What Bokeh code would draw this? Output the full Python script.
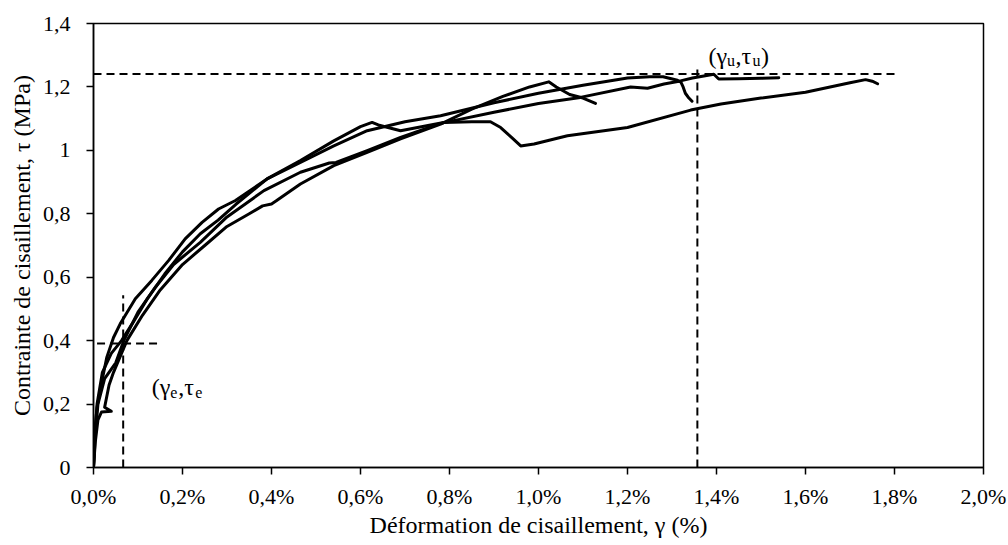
from bokeh.plotting import figure
from bokeh.models import Range1d, FixedTicker, ColumnDataSource
from bokeh.core.properties import value
from bokeh.embed import file_html
from bokeh.resources import INLINE

# ---- data (shear strain in %, shear stress in MPa) ----
curve_d_x = [0, 0.002, 0.008, 0.02, 0.03, 0.045, 0.06, 0.094, 0.131, 0.169, 0.206, 0.244, 0.281,
             0.319, 0.39, 0.465, 0.54, 0.60, 0.626, 0.64, 0.69, 0.74, 0.787, 0.85, 0.892, 0.915,
             0.94, 0.96, 0.99, 1.065, 1.2, 1.342, 1.41, 1.5, 1.6, 1.7, 1.735, 1.75, 1.762]
curve_d_y = [0, 0.10, 0.19, 0.28, 0.348, 0.41, 0.453, 0.532, 0.59, 0.653, 0.721, 0.773, 0.815,
             0.842, 0.91, 0.968, 1.03, 1.075, 1.088, 1.08, 1.062, 1.075, 1.088, 1.09, 1.09, 1.072,
             1.04, 1.014, 1.02, 1.046, 1.072, 1.127, 1.146, 1.165, 1.183, 1.213, 1.223, 1.218, 1.21]

curve_e_x = [0, 0.004, 0.01, 0.018, 0.04, 0.025, 0.035, 0.045, 0.075, 0.11, 0.15, 0.2, 0.25, 0.3,
             0.35, 0.38, 0.40, 0.41, 0.465, 0.54, 0.615, 0.69, 0.78, 0.85, 0.92, 0.98, 1.023,
             1.04, 1.07, 1.1, 1.128]
curve_e_y = [0, 0.08, 0.15, 0.175, 0.177, 0.19, 0.26, 0.30, 0.40, 0.48, 0.56, 0.64, 0.70, 0.76,
             0.80, 0.825, 0.831, 0.84, 0.894, 0.952, 0.994, 1.036, 1.083, 1.13, 1.17, 1.20, 1.216,
             1.20, 1.176, 1.165, 1.148]

curve_f_x = [0, 0.003, 0.008, 0.02, 0.04, 0.063, 0.09, 0.12, 0.16, 0.2, 0.24, 0.28, 0.32, 0.39,
             0.465, 0.54, 0.615, 0.7, 0.78, 0.9, 1.0, 1.1, 1.2, 1.25, 1.28, 1.31, 1.32, 1.325,
             1.33, 1.338, 1.345]
curve_f_y = [0, 0.10, 0.20, 0.30, 0.36, 0.40, 0.46, 0.53, 0.61, 0.68, 0.737, 0.78, 0.83, 0.91,
             0.962, 1.014, 1.062, 1.09, 1.109, 1.15, 1.18, 1.205, 1.228, 1.232, 1.232, 1.222, 1.215,
             1.20, 1.18, 1.165, 1.155]

curve_g_x = [0, 0.004, 0.01, 0.025, 0.05, 0.068, 0.10, 0.14, 0.18, 0.24, 0.3, 0.383, 0.465, 0.53,
             0.545, 0.615, 0.69, 0.78, 0.9, 1.0, 1.094, 1.207, 1.245, 1.282, 1.319, 1.346, 1.394,
             1.405, 1.45, 1.5, 1.54]
curve_g_y = [0, 0.10, 0.20, 0.28, 0.33, 0.40, 0.49, 0.57, 0.64, 0.71, 0.79, 0.873, 0.931, 0.96,
             0.962, 0.999, 1.041, 1.085, 1.12, 1.148, 1.167, 1.20, 1.196, 1.209, 1.219, 1.228, 1.24,
             1.225, 1.226, 1.227, 1.229]

# reference points (gamma_u, tau_u) and (gamma_e, tau_e)
gamma_u, tau_u = 1.357, 1.241
gamma_e, tau_e = 0.0667, 0.391

x_ticks = [0, 0.2, 0.4, 0.6, 0.8, 1.0, 1.2, 1.4, 1.6, 1.8, 2.0]
x_tick_labels = ["0,0%", "0,2%", "0,4%", "0,6%", "0,8%", "1,0%", "1,2%", "1,4%", "1,6%", "1,8%", "2,0%"]
y_ticks = [0, 0.2, 0.4, 0.6, 0.8, 1.0, 1.2, 1.4]
y_tick_labels = ["0", "0,2", "0,4", "0,6", "0,8", "1", "1,2", "1,4"]

FONT = "Liberation Serif"

p = figure(width=1008, height=545, output_backend="svg", toolbar_location=None,
           x_range=Range1d(0, 2.0), y_range=Range1d(0, 1.4),
           min_border_left=93, min_border_right=25, min_border_top=23, min_border_bottom=78)
p.xgrid.visible = False
p.ygrid.visible = False
p.outline_line_color = "black"
p.outline_line_width = 1.5
p.background_fill_color = "white"
p.border_fill_color = "white"

for ax in (p.xaxis[0], p.yaxis[0]):
    ax.axis_line_color = "black"
    ax.axis_line_width = 1.5
    ax.major_tick_line_color = "black"
    ax.major_tick_line_width = 1.5
    ax.major_tick_in = 0
    ax.major_tick_out = 7
    ax.minor_tick_line_color = None
    ax.major_label_text_font = FONT
    ax.major_label_text_font_size = "22px"
    ax.major_label_text_color = "black"
    ax.axis_label_text_font = FONT
    ax.axis_label_text_font_size = "24px"
    ax.axis_label_text_font_style = "normal"
    ax.axis_label_text_color = "black"

p.xaxis.ticker = FixedTicker(ticks=x_ticks)
p.xaxis.major_label_overrides = {t: l for t, l in zip(x_ticks, x_tick_labels)}
p.yaxis.ticker = FixedTicker(ticks=y_ticks)
p.yaxis.major_label_overrides = {t: l for t, l in zip(y_ticks, y_tick_labels)}
p.xaxis.axis_label = "Déformation de cisaillement, γ (%)"
p.yaxis.axis_label = "Contrainte de cisaillement, τ (MPa)"
p.xaxis.major_label_standoff = 9
p.yaxis.major_label_standoff = 16
p.xaxis.axis_label_standoff = 0
p.yaxis.axis_label_standoff = 5

# dashed reference lines
dash = "8 5"
p.line([0, 1.808], [tau_u, tau_u], line_color="black", line_width=2, line_dash=dash)
p.line([gamma_u, gamma_u], [0, 1.26], line_color="black", line_width=2, line_dash=dash)
p.line([0.008, 0.15], [tau_e, tau_e], line_color="black", line_width=2, line_dash=dash)
p.line([gamma_e, gamma_e], [0, 0.543], line_color="black", line_width=2, line_dash=dash)

# curves
for cx, cy in [(curve_d_x, curve_d_y), (curve_e_x, curve_e_y),
               (curve_f_x, curve_f_y), (curve_g_x, curve_g_y)]:
    p.line(cx, cy, line_color="black", line_width=3, line_join="round", line_cap="round")

# annotations with subscripts
def sub_label(x0, y0, pieces):
    xs, ys, txt, xo, yo, fs = [], [], [], [], [], []
    off = 0.0
    for t, size, w, dy in pieces:
        xs.append(x0); ys.append(y0); txt.append(t)
        xo.append(off); yo.append(dy); fs.append(f"{size}px")
        off += w
    src = ColumnDataSource(dict(x=xs, y=ys, text=txt, xo=xo, yo=yo, fs=fs))
    p.text(x="x", y="y", text="text", x_offset="xo", y_offset="yo", text_font_size="fs",
           source=src, text_font=value(FONT), text_color="black",
           text_align="left", text_baseline="alphabetic")

MAIN, SUB = 24, 16
label_u = [("(γ", MAIN, 18.5, 0), ("u", SUB, 8.5, 5), (",τ", MAIN, 17.0, 0), ("u", SUB, 8.5, 5), (")", MAIN, 9, 0)]
label_e = [("(γ", MAIN, 18.5, 0), ("e", SUB, 8.0, 5), (",τ", MAIN, 17.0, 0), ("e", SUB, 8.0, 5)]
sub_label(1.382, 1.298, label_u)
sub_label(0.131, 0.2526, label_e)

open("out.html", "w").write(file_html(p, INLINE))
